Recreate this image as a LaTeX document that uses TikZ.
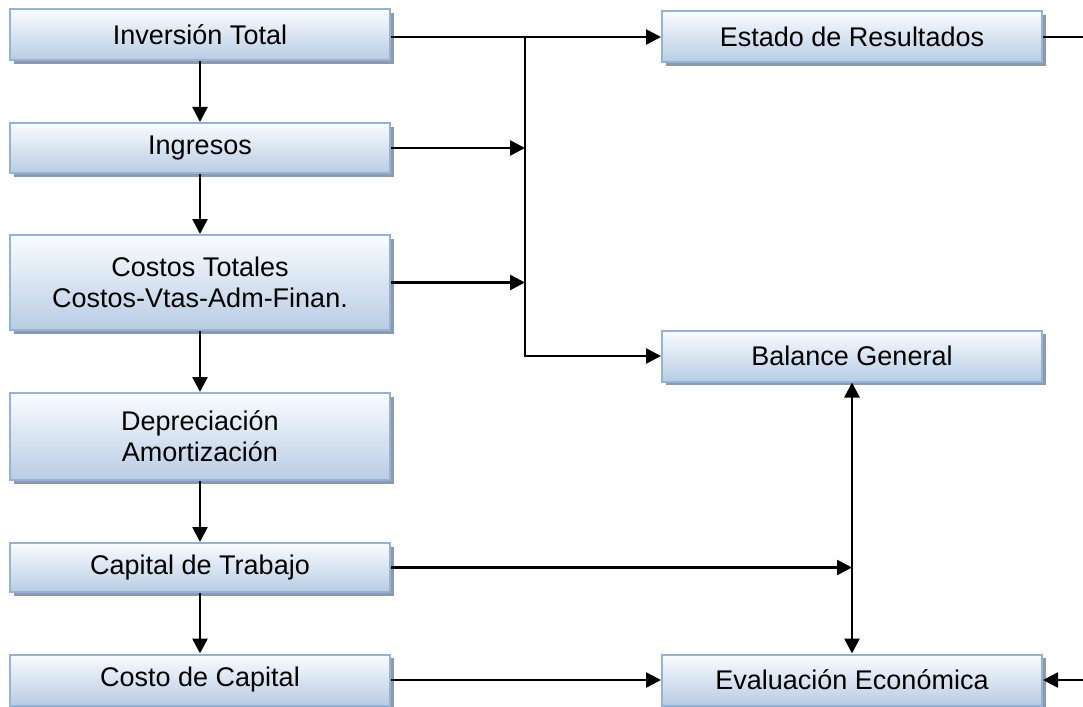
\documentclass[tikz,border=0pt]{standalone}
\usepackage{fontspec}
\setmainfont{Liberation Sans}
\usetikzlibrary{arrows.meta,shadows}
\definecolor{boxtop}{RGB}{250,252,255}
\definecolor{boxbot}{RGB}{184,204,228}
\definecolor{boxline}{RGB}{149,179,215}
\definecolor{shadowc}{RGB}{142,153,170}
\begin{document}
\begin{tikzpicture}[x=1pt,y=-1pt,
  box/.style={rectangle, draw=boxline, line width=2pt, top color=boxtop, bottom color=boxbot,
    minimum width=380pt, inner sep=0pt, align=center,
    font=\fontsize{27}{31}\selectfont,
    drop shadow={shadow xshift=3.5pt, shadow yshift=-3.5pt, fill=shadowc, opacity=1}},
  conn/.style={line width=2.6pt, black},
  arr/.style={conn, -{Triangle[length=15pt,width=15pt]}},
  darr/.style={conn, {Triangle[length=15pt,width=15pt]}-{Triangle[length=15pt,width=15pt]}}]
\useasboundingbox (0,0) rectangle (1083,706);
% left column
\node[box, minimum height=51pt] (inv) at (200,35) {Inversión Total};
\node[box, minimum height=50pt] (ing) at (200,148) {Ingresos};
\node[box, minimum height=95pt] (cos) at (200,282.5) {Costos Totales\\Costos-Vtas-Adm-Finan.};
\node[box, minimum height=87pt] (dep) at (200,436.5) {Depreciación\\Amortización};
\node[box, minimum height=49pt] (cap) at (200,567.5) {Capital de Trabajo};
\node[box, minimum height=51pt] (cdc) at (200,680) {Costo de Capital};
% right column
\node[box, minimum height=51pt] (est) at (852,37) {Estado de Resultados};
\node[box, minimum height=51pt] (bal) at (852,356) {Balance General};
\node[box, minimum height=51pt] (eva) at (852,680) {Evaluación Económica};
% vertical chain
\draw[arr] (inv) -- (ing);
\draw[arr] (ing) -- (cos);
\draw[arr] (cos) -- (dep);
\draw[arr] (dep) -- (cap);
\draw[arr] (cap) -- (cdc);
% collector
\coordinate (j1) at (525,37);
\draw[arr] (inv.east |- j1) -- (est.west |- j1);
\draw[arr] (j1) |- (bal.west);
\draw[arr] (ing.east) -- (ing.east -| j1);
\draw[arr] (cos.east) -- (cos.east -| j1);
% balance <-> evaluation
\draw[darr] (bal.south) -- (eva.north);
\coordinate (k) at (852,567.5);
\draw[arr] (cap.east) -- (k);
\draw[arr] (cdc.east) -- (eva.west);
% right edge stubs
\coordinate (r1) at (1083,37);
\coordinate (r2) at (1083,680);
\draw[conn] (est.east) -- (r1);
\draw[arr] (r2) -- (eva.east);
\end{tikzpicture}
\end{document}
